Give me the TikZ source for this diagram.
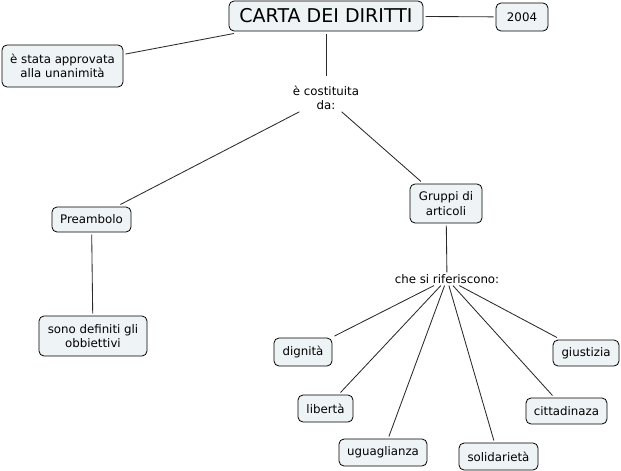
\documentclass[tikz,border=0pt]{standalone}
\usepackage{fontspec}
\setmainfont{DejaVu Sans}
\definecolor{boxfill}{HTML}{EEF3F5}
\definecolor{linecol}{HTML}{2A2A2A}
\tikzset{
  box/.style={draw=black, line width=0.8pt, fill=boxfill, rounded corners=5pt,
    inner sep=0pt, outer sep=2.5pt, align=center,
    font=\fontsize{11.8}{14.5}\selectfont},
  lbl/.style={inner sep=1pt, outer sep=1pt, align=center,
    font=\fontsize{11.8}{14}\selectfont},
  conn/.style={draw=linecol, line width=0.85pt}
}
\begin{document}
\begin{tikzpicture}[x=1pt,y=-1pt]
\useasboundingbox (0,0) rectangle (621,471);
\node[box, minimum width=194pt, minimum height=30pt, font=\fontsize{19}{22}\selectfont] (carta) at (326,16) {CARTA DEI DIRITTI};
\node[box, minimum width=52pt, minimum height=28pt] (y2004) at (522,17) {2004};
\node[box, minimum width=121pt, minimum height=42pt] (stata) at (62.5,66) {è stata approvata\\alla unanimità};
\node[lbl] (cost) at (326,98) {è costituita\\da:};
\node[box, minimum width=79pt, minimum height=25pt] (pre) at (91.5,219.5) {Preambolo};
\node[box, minimum width=108pt, minimum height=40pt] (sono) at (93,336) {sono definiti gli\\obbiettivi};
\node[box, minimum width=72pt, minimum height=39pt] (grup) at (446,203.5) {Gruppi di\\articoli};
\node[lbl] (che) at (447,279) {che si riferiscono:};
\node[box, minimum width=58pt, minimum height=28pt] (dig) at (303,352) {dignità};
\node[box, minimum width=55pt, minimum height=27pt] (lib) at (325.5,408.5) {libertà};
\node[box, minimum width=88pt, minimum height=27pt] (ugu) at (383,452.5) {uguaglianza};
\node[box, minimum width=79pt, minimum height=27pt] (sol) at (498.5,456.5) {solidarietà};
\node[box, minimum width=81pt, minimum height=26pt] (cit) at (566.5,411) {cittadinaza};
\node[box, minimum width=66pt, minimum height=26pt] (giu) at (586,353) {giustizia};
\draw[conn] (carta) -- (y2004);
\draw[conn] (stata) -- (carta);
\draw[conn, shorten >=8pt] (carta) -- (cost);
\draw[conn] (cost) -- (pre);
\draw[conn] (cost) -- (grup);
\draw[conn] (pre) -- (sono);
\draw[conn] (grup) -- (che);
\foreach \t in {dig,lib,ugu,sol,cit,giu}{\draw[conn] (che) -- (\t);}
\end{tikzpicture}
\end{document}
